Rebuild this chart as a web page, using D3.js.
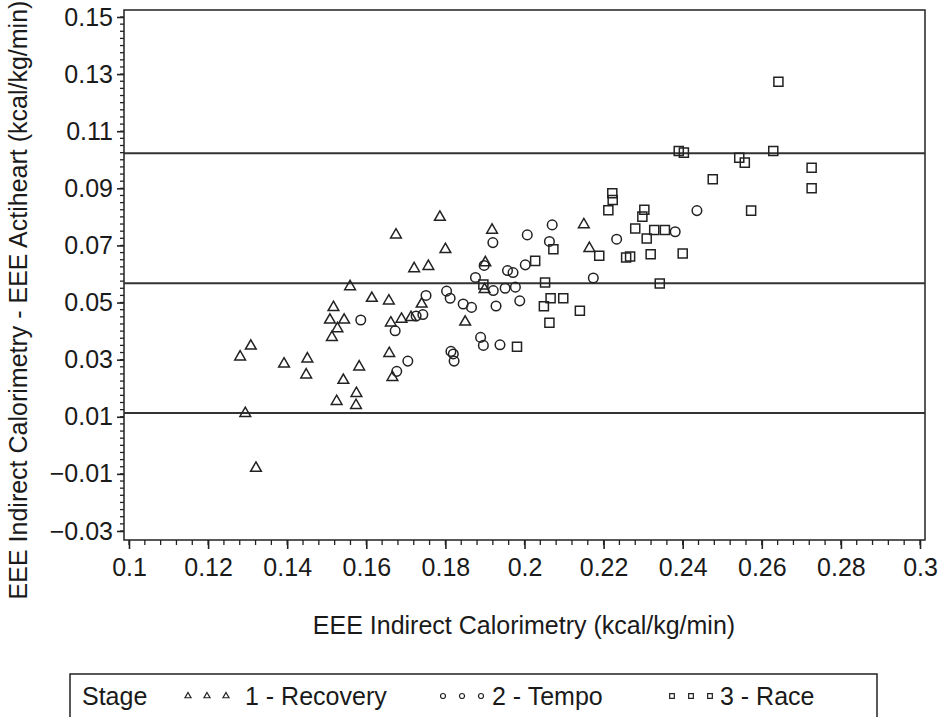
<!DOCTYPE html>
<html>
<head>
<meta charset="utf-8">
<script src="https://cdn.jsdelivr.net/npm/d3@7"></script>
<style>
  body { margin: 0; background: #fff; }
  text { font-family: "Liberation Sans", Arial, sans-serif; fill: #1a1a1a; }
</style>
</head>
<body>
<div class="chart"></div>
<script>
var svgWidth = 939;
var svgHeight = 717;

var margin = { top: 10, right: 14, bottom: 177, left: 124 };
var width = svgWidth - margin.left - margin.right;
var height = svgHeight - margin.top - margin.bottom;

// Stage 1 - Recovery
var recoveryX = [0.1281, 0.1308, 0.1294, 0.1321, 0.1392, 0.1451, 0.1448, 0.1508, 0.1517, 0.1544,
    0.1527, 0.1513, 0.1525, 0.1542, 0.1559, 0.1575, 0.1574, 0.1582, 0.1614, 0.1657,
    0.1658, 0.1662, 0.1666, 0.1675, 0.1689, 0.1713, 0.1721, 0.1740, 0.1757, 0.1786,
    0.1800, 0.1850, 0.1901, 0.1899, 0.1918, 0.2150, 0.2164];
var recoveryY = [0.0310, 0.0348, 0.0112, -0.0080, 0.0285, 0.0303, 0.0247, 0.0439, 0.0483, 0.0439,
    0.0409, 0.0378, 0.0154, 0.0228, 0.0556, 0.0182, 0.0140, 0.0275, 0.0515, 0.0506,
    0.0322, 0.0429, 0.0238, 0.0737, 0.0442, 0.0448, 0.0619, 0.0495, 0.0627, 0.0799,
    0.0686, 0.0432, 0.0640, 0.0546, 0.0754, 0.0773, 0.0690];

// Stage 2 - Tempo
var tempoX = [0.1586, 0.1673, 0.1677, 0.1705, 0.1726, 0.1743, 0.1751, 0.1803, 0.1812, 0.1814,
    0.1820, 0.1822, 0.1845, 0.1866, 0.1876, 0.1889, 0.1896, 0.1898, 0.1920, 0.1921,
    0.1928, 0.1938, 0.1951, 0.1957, 0.1971, 0.1977, 0.1988, 0.2002, 0.2007, 0.2063,
    0.2070, 0.2174, 0.2233, 0.2381, 0.2436];
var tempoY = [0.0439, 0.0401, 0.0259, 0.0295, 0.0453, 0.0458, 0.0525, 0.0540, 0.0515, 0.0329,
    0.0320, 0.0295, 0.0495, 0.0483, 0.0588, 0.0378, 0.0350, 0.0630, 0.0710, 0.0542,
    0.0488, 0.0352, 0.0550, 0.0612, 0.0605, 0.0554, 0.0506, 0.0632, 0.0737, 0.0714,
    0.0772, 0.0586, 0.0722, 0.0748, 0.0822];

// Stage 3 - Race
var raceX = [0.1981, 0.2027, 0.2049, 0.2052, 0.2063, 0.2066, 0.2073, 0.2098, 0.2140, 0.2189,
    0.2212, 0.2222, 0.2223, 0.2257, 0.2267, 0.2280, 0.2298, 0.2303, 0.2309, 0.2319,
    0.2328, 0.2342, 0.2355, 0.2400, 0.2476, 0.2390, 0.2403, 0.2543, 0.2557, 0.2573,
    0.2629, 0.2642, 0.2726, 0.2726, 0.1896];
var raceY = [0.0345, 0.0646, 0.0487, 0.0570, 0.0429, 0.0515, 0.0687, 0.0515, 0.0471, 0.0664,
    0.0823, 0.0883, 0.0859, 0.0658, 0.0661, 0.0759, 0.0801, 0.0825, 0.0724, 0.0669,
    0.0754, 0.0567, 0.0754, 0.0672, 0.0932, 0.1031, 0.1025, 0.1007, 0.0990, 0.0822,
    0.1031, 0.1273, 0.0972, 0.0900, 0.0563];

// mean difference and limits of agreement
var refLines = [0.1023, 0.0568, 0.0113];

var xTicks = [0.1, 0.12, 0.14, 0.16, 0.18, 0.2, 0.22, 0.24, 0.26, 0.28, 0.3];
var yTicks = [-0.03, -0.01, 0.01, 0.03, 0.05, 0.07, 0.09, 0.11, 0.13, 0.15];

var stageNames = ["1 - Recovery", "2 - Tempo", "3 - Race"];

var svg = d3.select(".chart")
    .append("svg")
    .attr("width", svgWidth)
    .attr("height", svgHeight);

var chartGroup = svg.append("g")
    .attr("transform", `translate(${margin.left}, ${margin.top})`);

var xLinearScale = d3.scaleLinear()
    .domain([0.1, 0.3])
    .range([5, 796]);

var yLinearScale = d3.scaleLinear()
    .domain([-0.03, 0.15])
    .range([521, 7]);

var ink = "#222";
var fontSize = "25px";

// minor ticks
var xMinor = d3.range(0, 51).map(i => 0.1 + i * 0.004);
var yMinor = d3.range(0, 73).map(i => -0.03 + i * 0.0025);

chartGroup.append("g")
    .attr("transform", `translate(0, ${height})`)
    .selectAll("line")
    .data(xMinor)
    .enter()
    .append("line")
    .attr("x1", d => xLinearScale(d))
    .attr("x2", d => xLinearScale(d))
    .attr("y1", 0)
    .attr("y2", 5)
    .attr("stroke", ink)
    .attr("stroke-width", 1.3);

chartGroup.append("g")
    .selectAll("line")
    .data(yMinor)
    .enter()
    .append("line")
    .attr("x1", 0)
    .attr("x2", -4)
    .attr("y1", d => yLinearScale(d))
    .attr("y2", d => yLinearScale(d))
    .attr("stroke", ink)
    .attr("stroke-width", 1.3);

var bottomAxis = d3.axisBottom(xLinearScale)
    .tickValues(xTicks)
    .tickSize(9)
    .tickPadding(9)
    .tickFormat(d3.format("~g"));

var leftAxis = d3.axisLeft(yLinearScale)
    .tickValues(yTicks)
    .tickSize(7)
    .tickPadding(4)
    .tickFormat(d3.format(".2f"));

var xAxis = chartGroup.append("g")
    .classed("x-axis", true)
    .attr("transform", `translate(0, ${height})`)
    .call(bottomAxis);

var yAxis = chartGroup.append("g")
    .classed("y-axis", true)
    .call(leftAxis);

[xAxis, yAxis].forEach(function (ax) {
    ax.select(".domain").remove();
    ax.selectAll(".tick line").attr("stroke", ink).attr("stroke-width", 1.6);
    ax.selectAll(".tick text")
        .attr("font-size", fontSize)
        .attr("fill", "#1a1a1a")
        .style("font-family", "Liberation Sans, Arial, sans-serif");
});

// frame
chartGroup.append("rect")
    .attr("x", 0)
    .attr("y", 0)
    .attr("width", width)
    .attr("height", height)
    .attr("fill", "none")
    .attr("stroke", ink)
    .attr("stroke-width", 1.5);

// reference lines
chartGroup.selectAll(".ref")
    .data(refLines)
    .enter()
    .append("line")
    .classed("ref", true)
    .attr("x1", 0)
    .attr("x2", width)
    .attr("y1", d => yLinearScale(d))
    .attr("y2", d => yLinearScale(d))
    .attr("stroke", "#333")
    .attr("stroke-width", 2);

// points
var series = [
    { xs: recoveryX, ys: recoveryY, shape: d3.symbolTriangle, size: 50 },
    { xs: tempoX, ys: tempoY, shape: d3.symbolCircle, size: 72 },
    { xs: raceX, ys: raceY, shape: d3.symbolSquare, size: 82 }
];

series.forEach(function (s) {
    var pts = s.xs.map((x, i) => [x, s.ys[i]]);
    chartGroup.append("g")
        .selectAll("path")
        .data(pts)
        .enter()
        .append("path")
        .attr("transform", d => `translate(${xLinearScale(d[0])}, ${yLinearScale(d[1])})`)
        .attr("d", d3.symbol().type(s.shape).size(s.size))
        .attr("fill", "none")
        .attr("stroke", ink)
        .attr("stroke-width", 1.5);
});

// axis titles
svg.append("text")
    .attr("x", 524)
    .attr("y", 634)
    .attr("text-anchor", "middle")
    .attr("font-size", fontSize)
    .text("EEE Indirect Calorimetry (kcal/kg/min)");

svg.append("text")
    .attr("transform", "translate(27, 300) rotate(-90)")
    .attr("text-anchor", "middle")
    .attr("font-size", fontSize)
    .text("EEE Indirect Calorimetry - EEE Actiheart (kcal/kg/min)");

// legend
var legend = svg.append("g");

legend.append("rect")
    .attr("x", 70)
    .attr("y", 674)
    .attr("width", 807)
    .attr("height", 60)
    .attr("fill", "none")
    .attr("stroke", ink)
    .attr("stroke-width", 1.5);

legend.append("text")
    .attr("x", 82)
    .attr("y", 705)
    .attr("font-size", fontSize)
    .text("Stage");

var legendItems = [
    { shape: d3.symbolTriangle, size: 16, x0: 188, tx: 245 },
    { shape: d3.symbolCircle, size: 20, x0: 443, tx: 492 },
    { shape: d3.symbolSquare, size: 22, x0: 672, tx: 720 }
];

legendItems.forEach(function (item, i) {
    [0, 1, 2].forEach(function (k) {
        legend.append("path")
            .attr("transform", `translate(${item.x0 + k * 19}, 696)`)
            .attr("d", d3.symbol().type(item.shape).size(item.size))
            .attr("fill", "none")
            .attr("stroke", ink)
            .attr("stroke-width", 1.2);
    });
    legend.append("text")
        .attr("x", item.tx)
        .attr("y", 705)
        .attr("font-size", fontSize)
        .text(stageNames[i]);
});
</script>
</body>
</html>
